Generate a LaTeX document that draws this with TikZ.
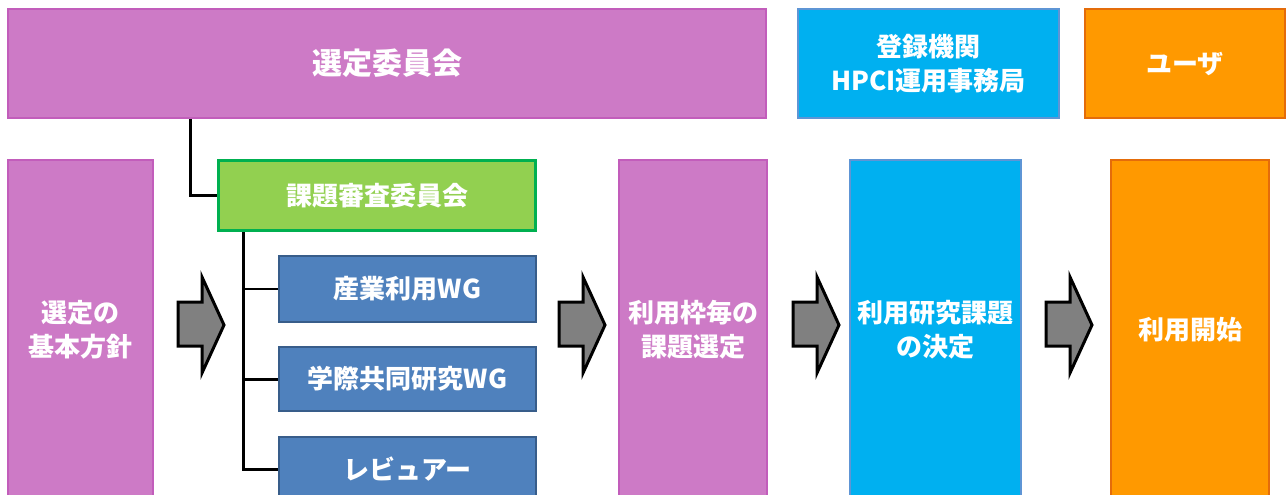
\documentclass[tikz,border=0pt]{standalone}
\usepackage{fontspec}
\setmainfont{Noto Sans CJK JP}
\definecolor{purfill}{HTML}{CD7AC6}
\definecolor{purline}{HTML}{C25DBB}
\definecolor{cyfill}{HTML}{00B0F0}
\definecolor{cyline}{HTML}{5E95D5}
\definecolor{orfill}{HTML}{FF9900}
\definecolor{orline}{HTML}{E46C0A}
\definecolor{grfill}{HTML}{92D050}
\definecolor{grline}{HTML}{00B050}
\definecolor{wgfill}{HTML}{4F81BD}
\definecolor{wgline}{HTML}{385D8A}
\begin{document}
\begin{tikzpicture}[x=1pt,y=-1pt,
  box/.style={rectangle, inner sep=0pt, text=white, align=center,
    font=\fontsize{26}{34}\selectfont\bfseries},
  purp/.style={box, fill=purfill, draw=purline, line width=2.5pt},
  cyan/.style={box, fill=cyfill, draw=cyline, line width=2.5pt},
  oran/.style={box, fill=orfill, draw=orline, line width=2.5pt},
  gree/.style={box, fill=grfill, draw=grline, line width=3.5pt},
  wgbox/.style={box, fill=wgfill, draw=wgline, line width=2.5pt},
  conn/.style={line width=3pt, black},
  thinconn/.style={line width=2pt, black},
  barrow/.style={fill=black!50, draw=black, line width=3pt, line join=miter}
]
\clip (0,0) rectangle (1288,495);
\fill[white] (0,0) rectangle (1288,495);

\node[purp, minimum width=758pt, minimum height=109pt, font=\fontsize{30}{34}\selectfont\bfseries] (sel) at (387,63.5) {選定委員会};
\node[cyan, minimum width=261pt, minimum height=109pt] (reg) at (928.5,63.5) {登録機関\\HPCI運用事務局};
\node[oran, minimum width=200pt, minimum height=109pt] (usr) at (1185,63.5) {ユーザ};

\node[purp, minimum width=145pt, minimum height=340pt] (pol) at (80.5,330) {選定の\\基本方針};
\node[gree, minimum width=317pt, minimum height=70pt] (rev) at (377,195.5) {課題審査委員会};
\node[wgbox, minimum width=257pt, minimum height=66pt] (wg1) at (407.5,289) {産業利用WG};
\node[wgbox, minimum width=257pt, minimum height=64pt] (wg2) at (407.5,379) {学際共同研究WG};
\node[wgbox, minimum width=257pt, minimum height=64pt] (wg3) at (407.5,469) {レビュアー};
\node[purp, minimum width=148pt, minimum height=340pt] (cho) at (693,330) {利用枠毎の\\課題選定};
\node[cyan, minimum width=171pt, minimum height=340pt] (dec) at (935.5,330) {利用研究課題\\の決定};
\node[oran, minimum width=158pt, minimum height=340pt] (sta) at (1190,330) {利用開始};

\coordinate (c1) at (190,119);
\draw[conn] (c1) |- (rev.west);
\coordinate (t0) at (243,232);
\draw[thinconn] (t0) |- (wg1.west);
\draw[conn] (t0) |- (wg2.west);
\draw[conn] (t0) |- (wg3.west);
\draw[thinconn] (t0) -- (243,469);

\foreach \x in {178,559,793,1046} {
  \draw[barrow] (\x,302) -- (\x+24,302) -- (\x+24,277) -- (\x+46,325)
    -- (\x+24,373) -- (\x+24,346) -- (\x,346) -- cycle;
}
\end{tikzpicture}
\end{document}
